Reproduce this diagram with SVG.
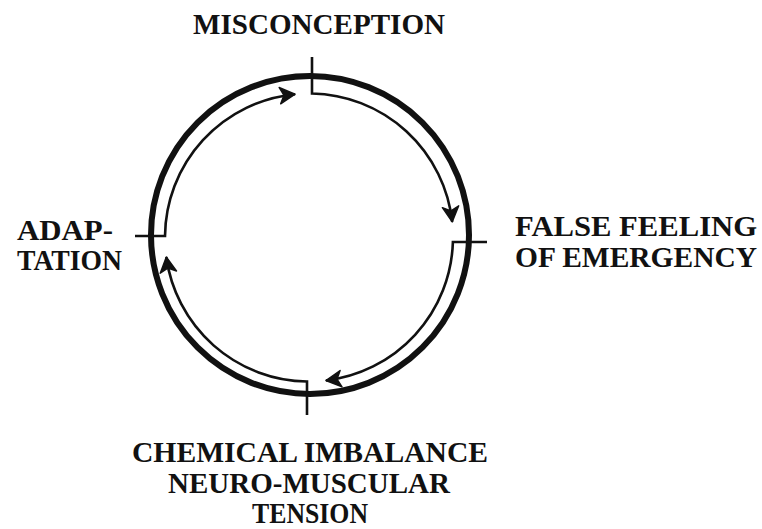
<svg xmlns="http://www.w3.org/2000/svg" width="762" height="529" viewBox="0 0 762 529">
  <style>
    .lbl { font-family: "Liberation Serif", "Times New Roman", serif; font-weight: bold; font-size: 30px; fill: #111; }
    .ring { fill: none; stroke: #111; stroke-width: 6; }
    .arc { fill: none; stroke: #111; stroke-width: 2.6; stroke-linejoin: miter; }
  </style>
  <defs>
    <marker id="ah" markerUnits="userSpaceOnUse" markerWidth="20" markerHeight="20" viewBox="-15 -8 17 16" refX="0" refY="0" orient="auto">
      <path d="M-13,-7 L0,0 L-13,7 L-9.5,0 Z" fill="#111" stroke="#111" stroke-width="1.2" stroke-linejoin="round"/>
    </marker>
  </defs>
  <rect width="762" height="529" fill="#fff"/>

  <g id="cycle-ring">
    <circle class="ring" cx="310" cy="235" r="159"/>
  </g>

  <g id="connectors">
    <path class="arc" d="M312,57 V93.5 A144 144 0 0 1 452.2,221.9" marker-end="url(#ah)"/>
    <path class="arc" d="M487,242 H452.9 A144 144 0 0 1 325.9,380.5" marker-end="url(#ah)"/>
    <path class="arc" d="M307,415 V381.5 A144 144 0 0 1 166.3,257" marker-end="url(#ah)"/>
    <path class="arc" d="M135,236 H165 A144 144 0 0 1 295.1,94.2" marker-end="url(#ah)"/>
  </g>

  <g id="node-misconception">
    <text class="lbl" x="193" y="34" textLength="252" lengthAdjust="spacingAndGlyphs">MISCONCEPTION</text>
  </g>
  <g id="node-false-feeling">
    <text class="lbl" x="515" y="236" textLength="242" lengthAdjust="spacingAndGlyphs">FALSE FEELING</text>
    <text class="lbl" x="515" y="267" textLength="242" lengthAdjust="spacingAndGlyphs">OF EMERGENCY</text>
  </g>
  <g id="node-chemical">
    <text class="lbl" x="132" y="462" textLength="356" lengthAdjust="spacingAndGlyphs">CHEMICAL  IMBALANCE</text>
    <text class="lbl" x="168" y="493" textLength="282" lengthAdjust="spacingAndGlyphs">NEURO-MUSCULAR</text>
    <text class="lbl" x="252" y="523" textLength="116" lengthAdjust="spacingAndGlyphs">TENSION</text>
  </g>
  <g id="node-adaptation">
    <text class="lbl" x="17" y="240" textLength="96" lengthAdjust="spacingAndGlyphs">ADAP-</text>
    <text class="lbl" x="17" y="270" textLength="105" lengthAdjust="spacingAndGlyphs">TATION</text>
  </g>
</svg>
